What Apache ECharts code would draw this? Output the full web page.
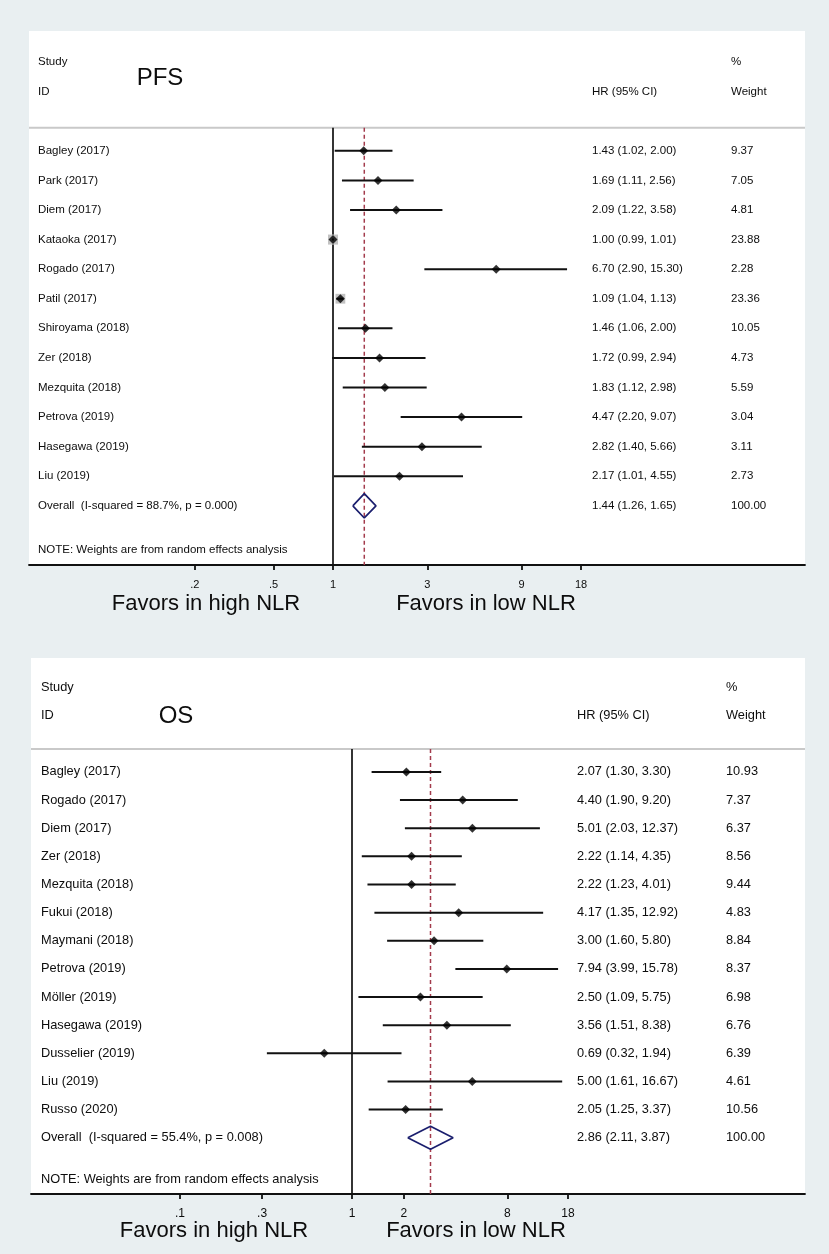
<!DOCTYPE html>
<html><head><meta charset="utf-8">
<script src="https://cdn.jsdelivr.net/npm/echarts@6/dist/echarts.min.js"></script>
<style>html,body{margin:0;padding:0;background:#e9eff1;}#c{width:829px;height:1254px;}</style>
</head><body><div id="c"></div>
<script>
// ---------- PFS data ----------
const studiesPFS = ['Bagley (2017)','Park (2017)','Diem (2017)','Kataoka (2017)','Rogado (2017)','Patil (2017)','Shiroyama (2018)','Zer (2018)','Mezquita (2018)','Petrova (2019)','Hasegawa (2019)','Liu (2019)'];
const hrPFS     = [1.43,1.69,2.09,1.00,6.70,1.09,1.46,1.72,1.83,4.47,2.82,2.17];
const lowPFS    = [1.02,1.11,1.22,0.99,2.90,1.04,1.06,0.99,1.12,2.20,1.40,1.01];
const highPFS   = [2.00,2.56,3.58,1.01,15.30,1.13,2.00,2.94,2.98,9.07,5.66,4.55];
const weightPFS = [9.37,7.05,4.81,23.88,2.28,23.36,10.05,4.73,5.59,3.04,3.11,2.73];
const overallPFS = [1.44,1.26,1.65];
const overallTextPFS = 'Overall  (I-squared = 88.7%, p = 0.000)';
const ticksPFS = [0.2,0.5,1,3,9,18];
const tickLabelsPFS = ['.2','.5','1','3','9','18'];

// ---------- OS data ----------
const studiesOS = ['Bagley (2017)','Rogado (2017)','Diem (2017)','Zer (2018)','Mezquita (2018)','Fukui (2018)','Maymani (2018)','Petrova (2019)','Möller (2019)','Hasegawa (2019)','Dusselier (2019)','Liu (2019)','Russo (2020)'];
const hrOS     = [2.07,4.40,5.01,2.22,2.22,4.17,3.00,7.94,2.50,3.56,0.69,5.00,2.05];
const lowOS    = [1.30,1.90,2.03,1.14,1.23,1.35,1.60,3.99,1.09,1.51,0.32,1.61,1.25];
const highOS   = [3.30,9.20,12.37,4.35,4.01,12.92,5.80,15.78,5.75,8.38,1.94,16.67,3.37];
const weightOS = [10.93,7.37,6.37,8.56,9.44,4.83,8.84,8.37,6.98,6.76,6.39,4.61,10.56];
const overallOS = [2.86,2.11,3.87];
const overallTextOS = 'Overall  (I-squared = 55.4%, p = 0.008)';
const ticksOS = [0.1,0.3,1,2,8,18];
const tickLabelsOS = ['.1','.3','1','2','8','18'];

const noteText = 'NOTE: Weights are from random effects analysis';
const FONT = '"Liberation Sans", Arial, Helvetica, sans-serif';
const TXT = '#0d0d0d';

function f2(v){ return v.toFixed(2); }

function buildPanel(i, c) {
  const n = c.studies.length;
  const sepY = c.sepY;
  const lnTicks = c.ticks.map(Math.log);
  const labelMap = {};
  labelMap[(-3).toFixed(2)] = '{a|Study}{b| }{c|%}';
  labelMap[(-2).toFixed(2)] = '{a|ID}{b|HR (95% CI)}{c|Weight}';
  c.studies.forEach((s, k) => {
    labelMap[k.toFixed(2)] = '{a|' + s + '}{b|' + f2(c.hr[k]) + ' (' + f2(c.low[k]) + ', ' + f2(c.high[k]) + ')}{c|' + f2(c.weight[k]) + '}';
  });
  labelMap[n.toFixed(2)] = '{a|' + c.overallText + '}{b|' + f2(c.overall[0]) + ' (' + f2(c.overall[1]) + ', ' + f2(c.overall[2]) + ')}{c|100.00}';
  labelMap[(n + 1.5).toFixed(2)] = '{a|' + noteText + '}';
  const yVals = Object.keys(labelMap).map(Number);
  const ts = {fontSize: c.fontSize, fontFamily: FONT, color: TXT};

  const grid = {left: c.left, top: c.top, width: c.width, height: c.height, show: true, backgroundColor: '#ffffff', borderWidth: 0};
  const xAxis = {
    type: 'value', gridIndex: i, min: c.xMin, max: c.xMax,
    splitLine: {show: false},
    axisLine: {show: true, onZero: false, lineStyle: {color: '#111', width: 1.8}},
    axisTick: {show: true, customValues: lnTicks, length: 5, lineStyle: {color: '#111', width: 1.8}},
    axisLabel: {
      customValues: lnTicks, margin: 14, fontSize: c.tickFont, fontFamily: FONT, color: TXT,
      formatter: function (v) {
        let best = 0, bd = 1e9;
        lnTicks.forEach((t, k) => { const d = Math.abs(t - v); if (d < bd) { bd = d; best = k; } });
        return c.tickLabels[best];
      }
    }
  };
  const yAxis = {
    type: 'value', gridIndex: i, inverse: true, min: c.yMin, max: c.yMax,
    splitLine: {show: false}, axisLine: {show: false}, axisTick: {show: false},
    axisLabel: {
      inside: true, align: 'left', margin: c.labelMargin, customValues: yVals,
      formatter: function (v) {
        let best = null, bd = 1e9;
        yVals.forEach(t => { const d = Math.abs(t - v); if (d < bd) { bd = d; best = t; } });
        return labelMap[best.toFixed(2)];
      },
      rich: {
        a: Object.assign({width: c.colA}, ts),
        b: Object.assign({width: c.colB}, ts),
        c: Object.assign({}, ts)
      }
    }
  };

  const lnO = Math.log(c.overall[0]), lnOL = Math.log(c.overall[1]), lnOU = Math.log(c.overall[2]);
  const ciData = c.studies.map((s, k) => [Math.log(c.low[k]), Math.log(c.high[k]), k, c.weight[k], Math.log(c.hr[k])]);
  const series = [
    {type: 'line', xAxisIndex: i, yAxisIndex: i, data: [[c.xMin, sepY], [c.xMax, sepY]], showSymbol: false, silent: true,
      lineStyle: {color: '#c9c9c9', width: 2}, z: 1},
    {type: 'line', xAxisIndex: i, yAxisIndex: i, data: [[0, sepY], [0, c.yMax]], showSymbol: false, silent: true,
      lineStyle: {color: '#111', width: 1.7}, z: 2},
    {type: 'line', xAxisIndex: i, yAxisIndex: i, data: [[lnO, sepY], [lnO, c.yMax]], showSymbol: false, silent: true,
      lineStyle: {color: '#a33b4c', width: 1.5, type: [4, 3]}, z: 2},
    {type: 'custom', xAxisIndex: i, yAxisIndex: i, data: ciData, encode: {x: [0, 1], y: 2}, z: 3,
      renderItem: function (params, api) {
        const p1 = api.coord([api.value(0), api.value(2)]);
        const p2 = api.coord([api.value(1), api.value(2)]);
        const pc = api.coord([api.value(4), api.value(2)]);
        const s = api.value(3) * 0.42;
        return {type: 'group', children: [
          {type: 'rect', shape: {x: pc[0] - s / 2, y: pc[1] - s / 2, width: s, height: s}, style: {fill: '#c2c2c2'}},
          {type: 'line', shape: {x1: p1[0], y1: p1[1], x2: p2[0], y2: p2[1]}, style: {stroke: '#111', lineWidth: 2}}
        ]};
      }
    },
    {type: 'scatter', xAxisIndex: i, yAxisIndex: i, data: c.hr.map((h, k) => [Math.log(h), k]),
      symbol: 'diamond', symbolSize: [9, 9], itemStyle: {color: '#000'}, z: 4, silent: true},
    {type: 'line', xAxisIndex: i, yAxisIndex: i, showSymbol: false, silent: true, z: 4,
      data: [[lnOL, n], [lnO, n - 0.41], [lnOU, n], [lnO, n + 0.41], [lnOL, n]],
      lineStyle: {color: '#1b1f6e', width: 1.7}}
  ];
  return {grid, xAxis, yAxis, series};
}

const pPFS = buildPanel(0, {
  studies: studiesPFS, hr: hrPFS, low: lowPFS, high: highPFS, weight: weightPFS,
  overall: overallPFS, overallText: overallTextPFS, ticks: ticksPFS, tickLabels: tickLabelsPFS,
  left: 29, top: 31, width: 776, height: 534, xMin: -3.543, xMax: 5.501, yMin: -4.05, yMax: 14, sepY: -0.78,
  fontSize: 11.5, tickFont: 11, colA: 554, colB: 139, labelMargin: 9
});
const pOS = buildPanel(1, {
  studies: studiesOS, hr: hrOS, low: lowOS, high: highOS, weight: weightOS,
  overall: overallOS, overallText: overallTextOS, ticks: ticksOS, tickLabels: tickLabelsOS,
  left: 31, top: 658, width: 774, height: 536, xMin: -4.297, xMax: 6.064, yMin: -4.05, yMax: 15, sepY: -0.82,
  fontSize: 12.8, tickFont: 12, colA: 536, colB: 149, labelMargin: 10
});

function txt(t, x, y, size) {
  return {type: 'text', x: x, y: y, silent: true, style: {text: t, fontSize: size, fontFamily: FONT, fill: '#0d0d0d',
    align: 'center', verticalAlign: 'middle', textAlign: 'center', textVerticalAlign: 'middle'}};
}

const chart = echarts.init(document.getElementById('c'), null, {renderer: 'canvas'});
chart.setOption({
  animation: false,
  backgroundColor: '#e9eff1',
  grid: [pPFS.grid, pOS.grid],
  xAxis: [pPFS.xAxis, pOS.xAxis],
  yAxis: [pPFS.yAxis, pOS.yAxis],
  series: pPFS.series.concat(pOS.series),
  graphic: [
    txt('PFS', 160, 78, 24),
    txt('OS', 176, 716, 24),
    txt('Favors in high NLR', 206, 604, 22),
    txt('Favors in low NLR', 486, 604, 22),
    txt('Favors in high NLR', 214, 1231, 22),
    txt('Favors in low NLR', 476, 1231, 22)
  ]
});
</script></body></html>
